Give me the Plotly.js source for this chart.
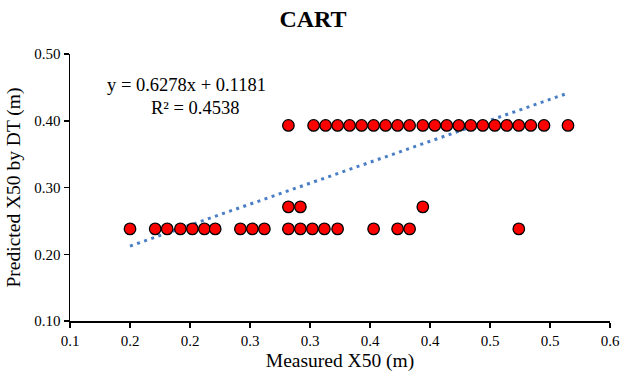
<!DOCTYPE html>
<html><head><meta charset="utf-8">
<script src="https://cdn.plot.ly/plotly-3.0.1.min.js"></script>
<style>body{margin:0;padding:0;background:#fff}#c{width:626px;height:381px}</style>
</head><body><div id="c"></div>
<script>
// Measured X50 (m) vs predicted X50 by DT (m)
const measuredTop = [0.282, 0.303, 0.313, 0.323, 0.333, 0.343, 0.353, 0.363, 0.373, 0.383, 0.394, 0.404, 0.414, 0.424, 0.434, 0.444, 0.454, 0.464, 0.474, 0.484, 0.495, 0.515];
const predictedTop = [0.393, 0.393, 0.393, 0.393, 0.393, 0.393, 0.393, 0.393, 0.393, 0.393, 0.393, 0.393, 0.393, 0.393, 0.393, 0.393, 0.393, 0.393, 0.393, 0.393, 0.393, 0.393];
const measuredMid = [0.282, 0.292, 0.394];
const predictedMid = [0.271, 0.271, 0.271];
const measuredLow = [0.150, 0.171, 0.181, 0.192, 0.202, 0.212, 0.221, 0.242, 0.252, 0.262, 0.282, 0.292, 0.302, 0.312, 0.323, 0.353, 0.373, 0.383, 0.474];
const predictedLow = [0.238, 0.238, 0.238, 0.238, 0.238, 0.238, 0.238, 0.238, 0.238, 0.238, 0.238, 0.238, 0.238, 0.238, 0.238, 0.238, 0.238, 0.238, 0.238];

// Linear trendline as printed on the chart
const slope = 0.6278, intercept = 0.1181, r2 = 0.4538;

// Tick values and their labels as displayed (rounded to one decimal)
const xTickVals = [0.10, 0.15, 0.20, 0.25, 0.30, 0.35, 0.40, 0.45, 0.50, 0.55];
const xTickText = ["0.1", "0.2", "0.2", "0.3", "0.3", "0.4", "0.4", "0.5", "0.5", "0.6"];
const yTickVals = [0.10, 0.20, 0.30, 0.40, 0.50];
const yTickText = ["0.10", "0.20", "0.30", "0.40", "0.50"];

const allX = measuredTop.concat(measuredMid, measuredLow);
const allY = predictedTop.concat(predictedMid, predictedLow);
const trendX = [Math.min(...allX), Math.max(...allX)];
const trendY = trendX.map(x => slope * x + intercept);

const font = "Liberation Serif, Times New Roman, serif";
const traces = [
  {x: trendX, y: trendY, mode: 'lines', type: 'scatter',
   line: {color: '#4A7EC6', width: 3, dash: '3px,4.5px'}, hoverinfo: 'skip'},
  {x: allX, y: allY, mode: 'markers', type: 'scatter',
   marker: {color: '#FF0000', size: 11.5, line: {color: '#000', width: 1.3}}}
];
const layout = {
  width: 626, height: 381,
  margin: {l: 70, r: 16, t: 54, b: 60},
  paper_bgcolor: '#fff', plot_bgcolor: '#fff',
  showlegend: false,
  font: {family: font, size: 15, color: '#000'},
  title: {text: '<b>CART</b>', font: {family: font, size: 24, color: '#000'}, x: 0.5, xanchor: 'center', y: 0.95, yanchor: 'middle'},
  xaxis: {range: [0.1, 0.55], tickvals: xTickVals, ticktext: xTickText,
    showgrid: false, zeroline: false, showline: true, linecolor: '#000', linewidth: 1.5,
    ticks: 'outside', ticklen: 5, tickcolor: '#000', tickwidth: 1.5,
    tickfont: {family: font, size: 15},
    title: {text: 'Measured X50 (m)', font: {family: font, size: 19.5}, standoff: 6}},
  yaxis: {range: [0.1, 0.5], tickvals: yTickVals, ticktext: yTickText,
    showgrid: false, zeroline: false, showline: true, linecolor: '#000', linewidth: 1.5,
    ticks: 'outside', ticklen: 5, tickcolor: '#000', tickwidth: 1.5,
    tickfont: {family: font, size: 15},
    title: {text: 'Predicted X50 by DT (m)', font: {family: font, size: 19.5}, standoff: 8}},
  annotations: [
    {xref: 'paper', yref: 'paper', x: 0.215, y: 0.884, xanchor: 'center', yanchor: 'middle', showarrow: false,
     text: 'y = ' + slope.toFixed(4) + 'x + ' + intercept.toFixed(4), font: {family: font, size: 18.5}},
    {xref: 'paper', yref: 'paper', x: 0.232, y: 0.798, xanchor: 'center', yanchor: 'middle', showarrow: false,
     text: 'R² = ' + r2.toFixed(4), font: {family: font, size: 18.5}}
  ]
};
Plotly.newPlot('c', traces, layout, {displayModeBar: false, staticPlot: true});
</script></body></html>
